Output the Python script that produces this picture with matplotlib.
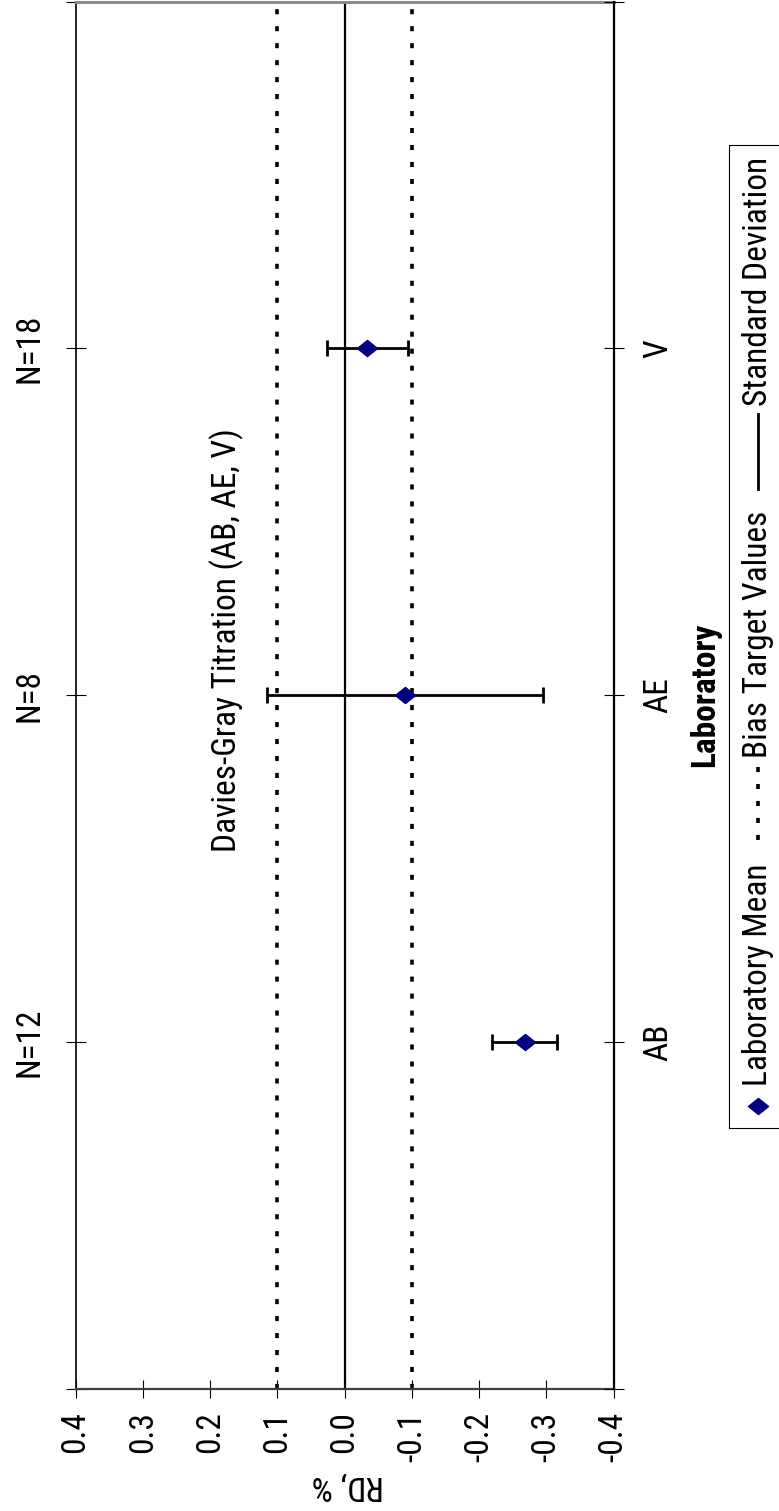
import numpy as np
import matplotlib
matplotlib.use("Agg")
import matplotlib.pyplot as plt
from matplotlib import font_manager
from matplotlib.path import Path
from matplotlib.lines import Line2D
from matplotlib.patches import Rectangle

# ---------------------------
# Datos
# ---------------------------
labs = ["AB", "AE", "V"]
n_labels = ["N=12", "N=8", "N=18"]
lab_mean = [-0.268, -0.090, -0.034]
lab_sd = [0.048, 0.205, 0.060]
bias_limits = [0.1, -0.1]
rd_ticks = [0.4, 0.3, 0.2, 0.1, 0.0, -0.1, -0.2, -0.3, -0.4]
method_text = "Davies-Gray Titration (AB, AE, V)"
legend_labels = ["Laboratory Mean", "Bias Target Values", "Standard Deviation"]

# buscar una fuente estrecha (tipo Arial Narrow)
names = sorted({f.name for f in font_manager.fontManager.ttflist})
narrow = None
for cand in ["Liberation Sans Narrow", "Arial Narrow", "Roboto Condensed",
             "DejaVu Sans Condensed", "Noto Sans Condensed", "Open Sans Condensed"]:
    if cand in names:
        narrow = cand
        break
if narrow is None:
    for n in names:
        if ("Narrow" in n or "Condensed" in n) and "Mono" not in n and "Serif" not in n:
            narrow = n
            break

if narrow is not None:
    plt.rcParams["font.family"] = [narrow, "Liberation Sans", "DejaVu Sans"]
    fs = 24
else:
    plt.rcParams["font.family"] = ["Liberation Sans", "DejaVu Sans"]
    fs = 20.5
plt.rcParams["font.size"] = fs
plt.rcParams["axes.unicode_minus"] = False

W, H = 779, 1511
fig = plt.figure(figsize=(W / 100, H / 100), dpi=100)


def fx(x):
    return x / W


def fy(y):
    return 1 - y / H


# ejes en pixeles (desde arriba-izquierda)
left, right, top, bottom = 75.6, 613.5, 1.5, 1389
ax = fig.add_axes([fx(left), fy(bottom), fx(right) - fx(left), fy(top) - fy(bottom)])

pos = np.arange(1, len(labs) + 1)

# marcador rombo (mas ancho que alto)
diamond = Path([(-1, 0), (0, 0.8), (1, 0), (0, -0.8), (-1, 0)],
               [Path.MOVETO, Path.LINETO, Path.LINETO, Path.LINETO, Path.CLOSEPOLY])
dots = (0, (1.4, 3.3))

ax.axvline(0, color="black", lw=1.6, zorder=2)
for b in bias_limits:
    ax.axvline(b, color="black", lw=2.6, linestyle=dots, zorder=2)

ax.errorbar(lab_mean, pos, xerr=lab_sd, fmt="none", ecolor="black",
            elinewidth=2, capsize=5.5, capthick=2, zorder=3)
ax.plot(lab_mean, pos, linestyle="none", marker=diamond, ms=14.5,
        color="#000080", zorder=4)

ax.set_xlim(0.4, -0.4)
ax.set_ylim(0, 4)
ax.set_xticks(rd_ticks, [f"{v:.1f}" for v in rd_ticks], rotation=90)
ax.tick_params(axis="x", direction="inout", length=12.5, width=0.8, pad=10)
ax.set_yticks([0, 1, 2, 3, 4], [""] + n_labels + [""], rotation=90, va="center")
ax.tick_params(axis="y", direction="inout", length=15, width=0.8, pad=14)

ax.spines["left"].set_linewidth(1.2)
ax.spines["bottom"].set_color("#404040")
ax.spines["bottom"].set_linewidth(1.6)
ax.spines["top"].set_color("#8c8c8c")
ax.spines["top"].set_linewidth(2.2)
ax.spines["right"].set_visible(False)

ax2 = ax.twinx()
ax2.set_ylim(0, 4)
ax2.set_yticks([0, 1, 2, 3, 4], [""] + labs + [""], rotation=90, va="center")
ax2.tick_params(axis="y", direction="inout", length=15, width=0.8, pad=13)
for s in ["left", "top", "bottom"]:
    ax2.spines[s].set_visible(False)
ax2.spines["right"].set_linewidth(1.6)

ax.text(0.175, 2.77, method_text, rotation=90, ha="center", va="top")

fig.text(fx(705), fy(695), "Laboratory", rotation=90, ha="center", va="center",
         fontweight="bold")
fig.text(fx(348), fy(1485), "RD, %", rotation=180, ha="center", va="center")

# ---------------------------
# Leyenda (girada), se arma de arriba hacia abajo
# ---------------------------
renderer = fig.canvas.get_renderer()
lx = 758
leg_top = 145
y = leg_top + 12
sample = 75


def add_label(txt, y):
    t = fig.text(fx(lx), fy(y), txt, rotation=90, ha="center", va="top")
    ext = t.get_window_extent(renderer)
    return y + ext.height


y = add_label(legend_labels[2], y)
fig.add_artist(Line2D([fx(lx), fx(lx)], [fy(y + 8), fy(y + 8 + sample)],
                      transform=fig.transFigure, color="black", lw=2))
y += 8 + sample + 22
y = add_label(legend_labels[1], y)
fig.add_artist(Line2D([fx(lx), fx(lx)], [fy(y + 8), fy(y + 8 + sample)],
                      transform=fig.transFigure, color="black", lw=2.6, linestyle=dots))
y += 8 + sample + 22
y = add_label(legend_labels[0], y)
fig.add_artist(Line2D([fx(lx)], [fy(y + 20)], transform=fig.transFigure, linestyle="none",
                      marker=diamond, ms=14.5, color="#000080"))
leg_bot = y + 42
fig.add_artist(Rectangle((fx(728.5), fy(leg_bot)), fx(120), fy(leg_top) - fy(leg_bot),
                         transform=fig.transFigure, fill=False, edgecolor="black", lw=0.8))

fig.savefig("out.png", dpi=100)
